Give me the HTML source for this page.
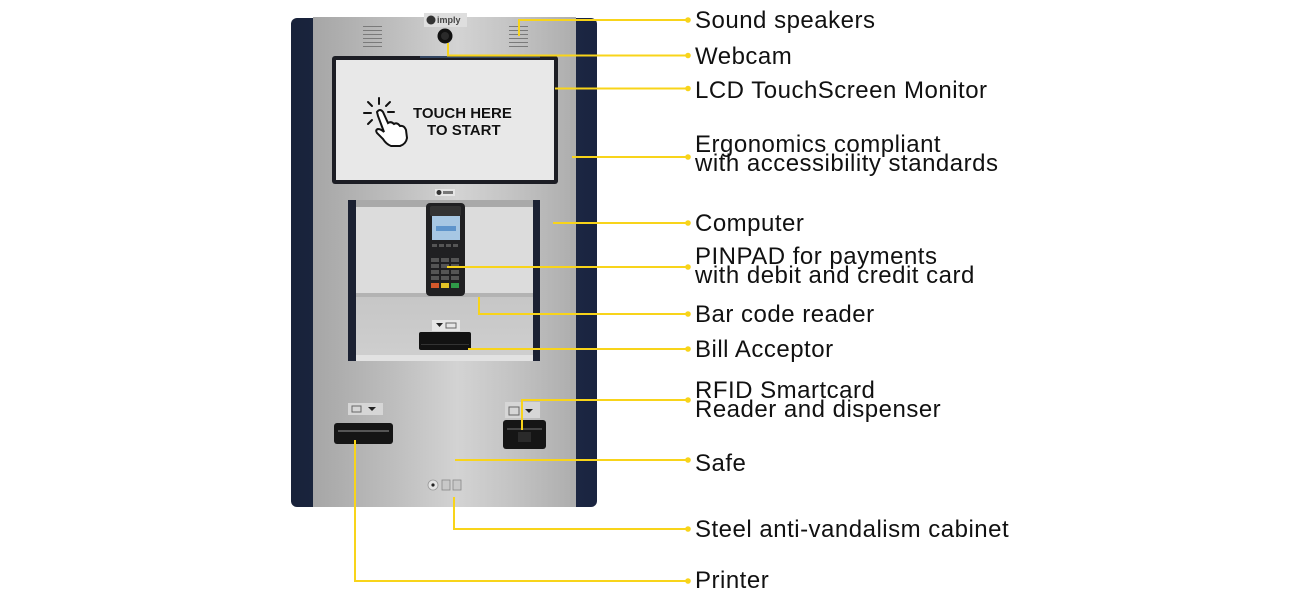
<!DOCTYPE html>
<html><head><meta charset="utf-8"><style>
html,body{margin:0;padding:0;background:#fff;width:1301px;height:601px;overflow:hidden}
svg{display:block}
.lbl{font-family:"Liberation Sans",Arial,sans-serif;font-size:24px;fill:#111;letter-spacing:0.5px}
</style></head><body>
<svg width="1301" height="601" viewBox="0 0 1301 601" xmlns="http://www.w3.org/2000/svg">
<defs>
<linearGradient id="steel" x1="0" x2="1" y1="0" y2="0">
<stop offset="0" stop-color="#a6a6a6"/>
<stop offset="0.3" stop-color="#bdbdbd"/>
<stop offset="0.55" stop-color="#d3d3d3"/>
<stop offset="0.75" stop-color="#c4c4c4"/>
<stop offset="1" stop-color="#adadad"/>
</linearGradient>
<linearGradient id="navy" x1="0" x2="1">
<stop offset="0" stop-color="#18223a"/>
<stop offset="0.6" stop-color="#24304d"/>
<stop offset="1" stop-color="#1a2440"/>
</linearGradient>
<linearGradient id="lower" x1="0" x2="0" y1="0" y2="1">
<stop offset="0" stop-color="#b9b9b9"/>
<stop offset="1" stop-color="#cfcfcf"/>
</linearGradient>
</defs>

<!-- cabinet -->
<rect x="291" y="18" width="306" height="489" rx="6" fill="url(#navy)"/>
<rect x="313" y="17" width="263" height="490" fill="url(#steel)"/>

<!-- speakers -->
<g stroke="#7a7a7a" stroke-width="1">
<line x1="363" y1="26.5" x2="382" y2="26.5"/><line x1="363" y1="30.5" x2="382" y2="30.5"/><line x1="363" y1="34.5" x2="382" y2="34.5"/><line x1="363" y1="38.5" x2="382" y2="38.5"/><line x1="363" y1="42.5" x2="382" y2="42.5"/><line x1="363" y1="46.5" x2="382" y2="46.5"/>
<line x1="509" y1="26.5" x2="528" y2="26.5"/><line x1="509" y1="30.5" x2="528" y2="30.5"/><line x1="509" y1="34.5" x2="528" y2="34.5"/><line x1="509" y1="38.5" x2="528" y2="38.5"/><line x1="509" y1="42.5" x2="528" y2="42.5"/><line x1="509" y1="46.5" x2="528" y2="46.5"/>
</g>
<!-- logo top -->
<rect x="424" y="13" width="43" height="14" fill="#dedede"/>
<circle cx="431" cy="20" r="4.5" fill="#333"/>
<text x="437" y="23" font-family="Liberation Sans,sans-serif" font-size="9" font-weight="bold" fill="#444">imply</text>
<!-- webcam -->
<circle cx="445" cy="36" r="7.5" fill="#111"/>
<circle cx="445" cy="36" r="4" fill="#2a2a2a"/>

<!-- screen -->
<rect x="332" y="56" width="226" height="128" rx="3" fill="#1c1d24"/>
<rect x="336" y="60" width="218" height="120" fill="#e8e8e8"/>
<rect x="420" y="56" width="120" height="2" fill="#4a6fa0" opacity="0.5"/>
<!-- hand icon -->
<g stroke="#111" stroke-width="2" fill="none" stroke-linecap="round">
<line x1="379" y1="98" x2="379" y2="104"/>
<line x1="368" y1="102" x2="372" y2="106"/>
<line x1="390" y1="102" x2="386" y2="106"/>
<line x1="364" y1="113" x2="371" y2="113"/>
<line x1="388" y1="112" x2="394" y2="112"/>
<line x1="368" y1="124" x2="372" y2="120"/>
<path d="M377 112 q3-4 6 0 l5 11 q3-2 6 1 q3-2 6 2 q4-1 6 4 l1 8 q-1 6-7 8 l-9 0 q-5-2-8-7 l-6-6 q-2-3 1-4 q3 0 6 3 l-6-16 z" fill="#fff"/>
</g>
<g font-family="Liberation Sans,Arial,sans-serif" font-weight="bold" font-size="15" fill="#111" stroke="#fff" stroke-width="0.6" paint-order="stroke">
<text x="413" y="118">TOUCH HERE</text>
<text x="427" y="135">TO START</text>
</g>

<!-- small logo under screen -->
<rect x="435" y="189" width="20" height="7" fill="#e6e6e6"/>
<circle cx="439" cy="192.5" r="2.5" fill="#333"/>
<rect x="443" y="191" width="10" height="3" fill="#777"/>

<!-- recess -->
<rect x="348" y="200" width="192" height="161" fill="url(#lower)"/>
<rect x="356" y="200" width="177" height="7" fill="#a9a9a9"/>
<rect x="356" y="207" width="177" height="86" fill="#dcdcdc"/>
<rect x="356" y="293" width="177" height="4" fill="#b3b3b3"/>
<rect x="356" y="355" width="177" height="6" fill="#e2e2e2"/>
<rect x="348" y="200" width="8" height="161" fill="#1b2132"/>
<rect x="533" y="200" width="7" height="161" fill="#1b2132"/>

<!-- pinpad -->
<rect x="426" y="203" width="39" height="93" rx="4" fill="#202022"/>
<rect x="430" y="206" width="31" height="10" rx="2" fill="#333"/>
<rect x="432" y="216" width="28" height="24" fill="#a7c7e3"/>
<rect x="436" y="226" width="20" height="5" fill="#3f7fc0" opacity="0.7"/>
<g fill="#555">
<rect x="432" y="244" width="5" height="3"/><rect x="439" y="244" width="5" height="3"/><rect x="446" y="244" width="5" height="3"/><rect x="453" y="244" width="5" height="3"/>
<rect x="431" y="258" width="8" height="4"/><rect x="441" y="258" width="8" height="4"/><rect x="451" y="258" width="8" height="4"/>
<rect x="431" y="264" width="8" height="4"/><rect x="441" y="264" width="8" height="4"/><rect x="451" y="264" width="8" height="4"/>
<rect x="431" y="270" width="8" height="4"/><rect x="441" y="270" width="8" height="4"/><rect x="451" y="270" width="8" height="4"/>
<rect x="431" y="276" width="8" height="4"/><rect x="441" y="276" width="8" height="4"/><rect x="451" y="276" width="8" height="4"/>
</g>
<rect x="431" y="283" width="8" height="5" fill="#d2582b"/>
<rect x="441" y="283" width="8" height="5" fill="#e3c326"/>
<rect x="451" y="283" width="8" height="5" fill="#2f9a48"/>

<!-- bill acceptor -->
<rect x="432" y="320" width="28" height="11" fill="#e6e6e6"/>
<path d="M436 323 h7 l-3.5 4 z" fill="#222"/>
<rect x="446" y="323" width="10" height="5" fill="none" stroke="#666" stroke-width="1"/>
<rect x="419" y="332" width="52" height="18" rx="2" fill="#121212"/>
<rect x="421" y="344" width="48" height="1" fill="#333"/>

<!-- printer -->
<rect x="348" y="403" width="35" height="12" fill="#d6d6d6"/>
<rect x="352" y="406" width="9" height="6" fill="none" stroke="#666" stroke-width="1"/>
<path d="M368 407 h8 l-4 4 z" fill="#222"/>
<rect x="334" y="423" width="59" height="21" rx="3" fill="#151515"/>
<rect x="338" y="430" width="51" height="2" fill="#555"/>

<!-- RFID -->
<rect x="505" y="402" width="35" height="16" fill="#d6d6d6"/>
<rect x="509" y="407" width="10" height="8" fill="none" stroke="#666" stroke-width="1"/>
<path d="M525 409 h8 l-4 4 z" fill="#222"/>
<rect x="503" y="420" width="43" height="29" rx="3" fill="#151515"/>
<rect x="507" y="428" width="35" height="2" fill="#444"/>
<rect x="518" y="432" width="13" height="10" fill="#2a2a2a"/>

<!-- buttons -->
<circle cx="433" cy="485" r="5" fill="#e4e4e4" stroke="#999" stroke-width="0.8"/>
<circle cx="433" cy="485" r="1.6" fill="#222"/>
<rect x="442" y="480" width="8" height="10" fill="#c8c8c8" stroke="#888" stroke-width="0.8"/>
<rect x="453" y="480" width="8" height="10" fill="#c8c8c8" stroke="#888" stroke-width="0.8"/>

<!-- connectors -->
<g stroke="#F8D41A" stroke-width="2" fill="none">
<path d="M519 36 V20 H688"/>
<path d="M448 43 V55.5 H688"/>
<path d="M555 88.5 H688"/>
<path d="M572 157 H688"/>
<path d="M553 223 H688"/>
<path d="M447 267 H688"/>
<path d="M479 297 V314 H688"/>
<path d="M468 349 H688"/>
<path d="M522 430 V400 H688"/>
<path d="M455 460 H688"/>
<path d="M454 497 V529 H688"/>
<path d="M355 440 V581 H688"/>
</g>
<g fill="#F8D41A">
<circle cx="688" cy="20" r="2.8"/>
<circle cx="688" cy="55.5" r="2.8"/>
<circle cx="688" cy="88.5" r="2.8"/>
<circle cx="688" cy="157" r="2.8"/>
<circle cx="688" cy="223" r="2.8"/>
<circle cx="688" cy="267" r="2.8"/>
<circle cx="688" cy="314" r="2.8"/>
<circle cx="688" cy="349" r="2.8"/>
<circle cx="688" cy="400" r="2.8"/>
<circle cx="688" cy="460" r="2.8"/>
<circle cx="688" cy="529" r="2.8"/>
<circle cx="688" cy="581" r="2.8"/>
</g>

<!-- labels -->
<g class="lbl">
<text x="695" y="28">Sound speakers</text>
<text x="695" y="64">Webcam</text>
<text x="695" y="98">LCD TouchScreen Monitor</text>
<text x="695" y="152">Ergonomics compliant</text>
<text x="695" y="171">with accessibility standards</text>
<text x="695" y="231">Computer</text>
<text x="695" y="264">PINPAD for payments</text>
<text x="695" y="283">with debit and credit card</text>
<text x="695" y="322">Bar code reader</text>
<text x="695" y="357">Bill Acceptor</text>
<text x="695" y="398">RFID Smartcard</text>
<text x="695" y="417">Reader and dispenser</text>
<text x="695" y="471">Safe</text>
<text x="695" y="537">Steel anti-vandalism cabinet</text>
<text x="695" y="588">Printer</text>
</g>
</svg>
</body></html>
